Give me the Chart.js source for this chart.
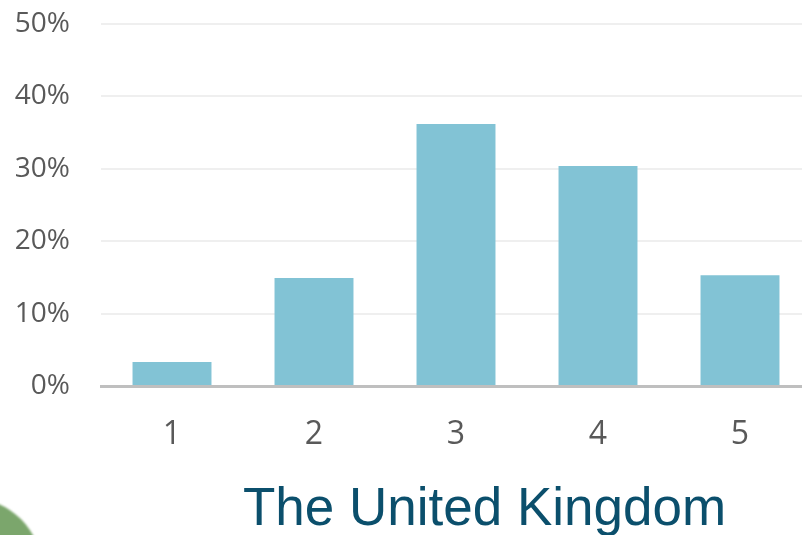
<!DOCTYPE html>
<html>
<head>
<meta charset="utf-8">
<script src="https://cdn.jsdelivr.net/npm/chart.js@4"></script>
<style>
  html, body { margin: 0; padding: 0; background: #fff; overflow: hidden; }
  #wrap { position: relative; width: 802px; height: 535px; overflow: hidden; }
  #box { position: absolute; left: 0; top: 0; width: 820px; height: 535px; }
  #title {
    position: absolute; left: 243px; top: 480px;
    font-family: "Liberation Sans", Arial, sans-serif; font-size: 53px; line-height: 53px;
    color: #0b4f6c; white-space: nowrap;
  }
  #blob {
    position: absolute; left: -102px; top: 498px; width: 144px; height: 144px;
    border-radius: 50%; background: #7ba66c; filter: blur(1px);
  }
</style>
</head>
<body>
<div id="wrap">
  <div id="box"><canvas id="chart"></canvas></div>
  <div id="blob"></div>
  <div id="title">The United Kingdom</div>
</div>
<script>
const categories = ['1', '2', '3', '4', '5'];
const shares = [3.3, 14.9, 36.2, 30.4, 15.3];
const yTicks = [0, 10, 20, 30, 40, 50];

const ctx = document.getElementById('chart').getContext('2d');
new Chart(ctx, {
    type: 'bar',
    data: {
        labels: categories,
        datasets: [{
            data: shares,
            backgroundColor: '#82c3d5',
            borderWidth: 0,
            categoryPercentage: 1,
            barPercentage: 0.556
        }]
    },
    options: {
        responsive: true,
        maintainAspectRatio: false,
        animation: false,
        layout: { padding: { top: 24, right: 9, left: 0, bottom: 0 } },
        plugins: { legend: { display: false }, tooltip: { enabled: false } },
        scales: {
            x: {
                grid: { display: false, drawTicks: false },
                border: { display: true, color: '#bfbfbf', width: 3 },
                ticks: {
                    color: '#595959',
                    font: { family: 'Open Sans', size: 32 },
                    padding: 30
                },
                afterFit: (scale) => { scale.height = 149; }
            },
            y: {
                min: 0,
                max: 50,
                afterBuildTicks: (scale) => { scale.ticks = yTicks.map(v => ({ value: v })); },
                grid: { color: '#efefef', lineWidth: 2, drawTicks: false },
                border: { display: false },
                ticks: {
                    color: '#595959',
                    font: { family: 'Open Sans', size: 28 },
                    padding: 31,
                    callback: (v) => v + '%'
                },
                afterFit: (scale) => {
                    scale.width = 101;
                    scale.paddingTop = 0;
                    scale.paddingBottom = 0;
                }
            }
        }
    }
});
</script>
</body>
</html>
